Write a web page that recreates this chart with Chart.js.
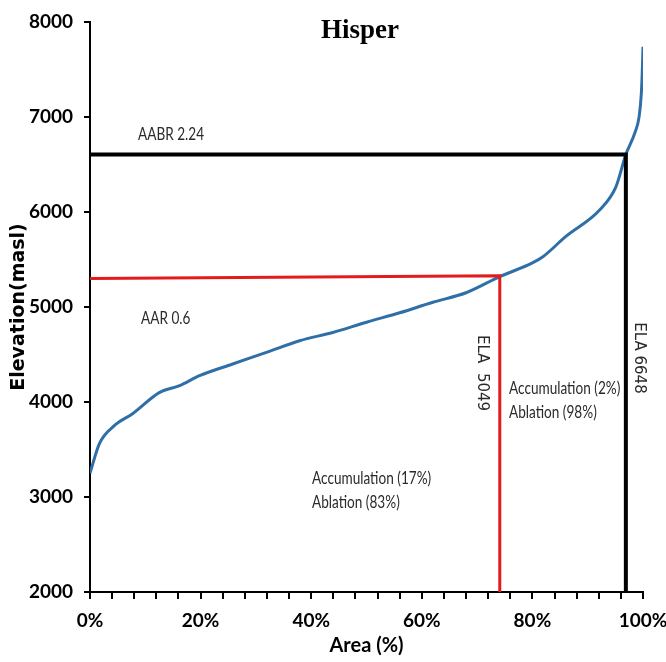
<!DOCTYPE html>
<html>
<head>
<meta charset="utf-8">
<script src="https://cdn.jsdelivr.net/npm/chart.js@4/dist/chart.umd.min.js"></script>
<style>
  html, body { margin: 0; padding: 0; background: #fff; }
  #wrap { width: 666px; height: 662px; position: relative; }
</style>
</head>
<body>
<div id="wrap"><canvas id="c" width="666" height="662"></canvas></div>
<script>
// Hypsometric curve (area % vs elevation)
const areaPct = [0, 1.7, 4.4, 7.7, 12.6, 16.2, 19.8, 25.8, 31.9, 37.9, 43.9, 50, 56, 62, 68, 74.1, 80, 81.9, 86, 92.2, 95.1, 96.9, 98.5, 99.3, 99.7, 99.9, 100];
const elevation = [3250, 3562, 3751, 3877, 4101, 4172, 4277, 4400, 4522, 4645, 4732, 4840, 4939, 5050, 5150, 5320, 5464, 5529, 5740, 6023, 6265, 6605, 6829, 7004, 7250, 7530, 7740];

// AAR line (red) and AABR line (black)
const aarX = [0, 74.1, 74.1];
const aarY = [5300, 5330, 2000];
const aabrX = [0, 96.9, 96.9];
const aabrY = [6605, 6605, 2000];

// Axis ticks
const xTickLabels = [0, 20, 40, 60, 80, 100];
const yTicks = [2000, 3000, 4000, 5000, 6000, 7000, 8000];

// Annotation texts
const titleText = "Hisper";
const aabrLabel = "AABR 2.24";
const aarLabel = "AAR 0.6";
const ela1Label = "ELA  5049";
const ela2Label = "ELA 6648";
const zone1 = ["Accumulation (17%)", "Ablation (83%)"];
const zone2 = ["Accumulation (2%)", "Ablation (98%)"];

const toPts = (xs, ys) => xs.map((x, i) => ({ x: x, y: ys[i] }));

const narrow = 'Lato, "Open Sans", sans-serif';

function condensedText(ctx, text, x, y, sx) {
  ctx.save();
  ctx.translate(x, y);
  ctx.scale(sx, 1);
  ctx.fillText(text, 0, 0);
  ctx.restore();
}

const annotate = {
  id: 'annotate',
  afterDatasetsDraw(chart) {
    const ctx = chart.ctx;
    ctx.save();
    // Title
    ctx.fillStyle = '#000';
    ctx.font = 'bold 27px "Liberation Serif", "DejaVu Serif", serif';
    ctx.textAlign = 'center';
    ctx.textBaseline = 'middle';
    ctx.fillText(titleText, 360, 31);

    ctx.fillStyle = '#2a2a2a';
    ctx.font = '17px ' + narrow;
    ctx.textAlign = 'left';
    const sx = 0.8;
    condensedText(ctx, aabrLabel, 138, 135, sx);
    condensedText(ctx, aarLabel, 141, 319, sx);
    condensedText(ctx, zone1[0], 312, 479, sx);
    condensedText(ctx, zone1[1], 312, 503, sx);
    condensedText(ctx, zone2[0], 509, 389, sx);
    condensedText(ctx, zone2[1], 509, 413, sx);

    // Rotated ELA labels
    ctx.font = '15px "DejaVu Sans", sans-serif';
    ctx.textAlign = 'center';
    ctx.save();
    ctx.translate(482, 373);
    ctx.rotate(Math.PI / 2);
    ctx.fillText(ela1Label, 0, 0);
    ctx.restore();
    ctx.save();
    ctx.translate(639, 358);
    ctx.rotate(Math.PI / 2);
    ctx.fillText(ela2Label, 0, 0);
    ctx.restore();
    ctx.restore();
  }
};

new Chart(document.getElementById('c'), {
  type: 'scatter',
  data: {
    datasets: [
      {
        label: 'AABR',
        data: toPts(aabrX, aabrY),
        showLine: true,
        borderColor: '#000000',
        borderWidth: 4,
        pointRadius: 0,
        tension: 0
      },
      {
        label: 'AAR',
        data: toPts(aarX, aarY),
        showLine: true,
        borderColor: '#e31b1b',
        borderWidth: 3,
        pointRadius: 0,
        tension: 0
      },
      {
        label: 'Hypsometry',
        data: toPts(areaPct, elevation),
        showLine: true,
        borderColor: '#2f6fa8',
        borderWidth: 3,
        pointRadius: 0,
        cubicInterpolationMode: 'monotone'
      }
    ]
  },
  options: {
    responsive: false,
    animation: false,
    devicePixelRatio: 1,
    layout: { padding: { top: 22, right: 23, bottom: 0, left: 0 } },
    plugins: {
      legend: { display: false },
      tooltip: { enabled: false },
      title: { display: false }
    },
    scales: {
      x: {
        type: 'linear',
        min: 0, max: 100,
        afterFit(s) { s.height = 70; s.paddingLeft = 0; s.paddingRight = 0; },
        afterBuildTicks(s) {
          const t = [];
          for (let v = 0; v <= 100; v += 4) t.push({ value: v });
          s.ticks = t;
        },
        ticks: {
          autoSkip: false,
          maxRotation: 0,
          color: '#000',
          padding: 10,
          font: { family: narrow, size: 19, weight: 'bold' },
          callback: (v) => xTickLabels.includes(v) ? v + '%' : ''
        },
        grid: { drawOnChartArea: false, drawTicks: true, tickLength: 7, color: '#000', lineWidth: 2 },
        border: { display: true, color: '#000', width: 2 },
        title: {
          display: true, text: 'Area (%)', color: '#000',
          font: { family: narrow, size: 20, weight: 'bold' },
          padding: { top: 0, bottom: 4 }
        }
      },
      y: {
        type: 'linear',
        min: 2000, max: 8000,
        afterFit(s) { s.width = 90; s.paddingTop = 0; s.paddingBottom = 0; },
        afterBuildTicks(s) { s.ticks = yTicks.map(v => ({ value: v })); },
        ticks: {
          color: '#000',
          padding: 11,
          font: { family: narrow, size: 19, weight: 'bold' },
          callback: (v) => String(v)
        },
        grid: { drawOnChartArea: false, drawTicks: true, tickLength: 6, color: '#000', lineWidth: 2 },
        border: { display: true, color: '#000', width: 2 },
        title: {
          display: true, text: 'Elevation(masl)', color: '#000',
          font: { family: '"DejaVu Sans", sans-serif', size: 19, weight: 'bold' },
          padding: { top: 8, bottom: 0 }
        }
      }
    }
  },
  plugins: [annotate]
});
</script>
</body>
</html>
